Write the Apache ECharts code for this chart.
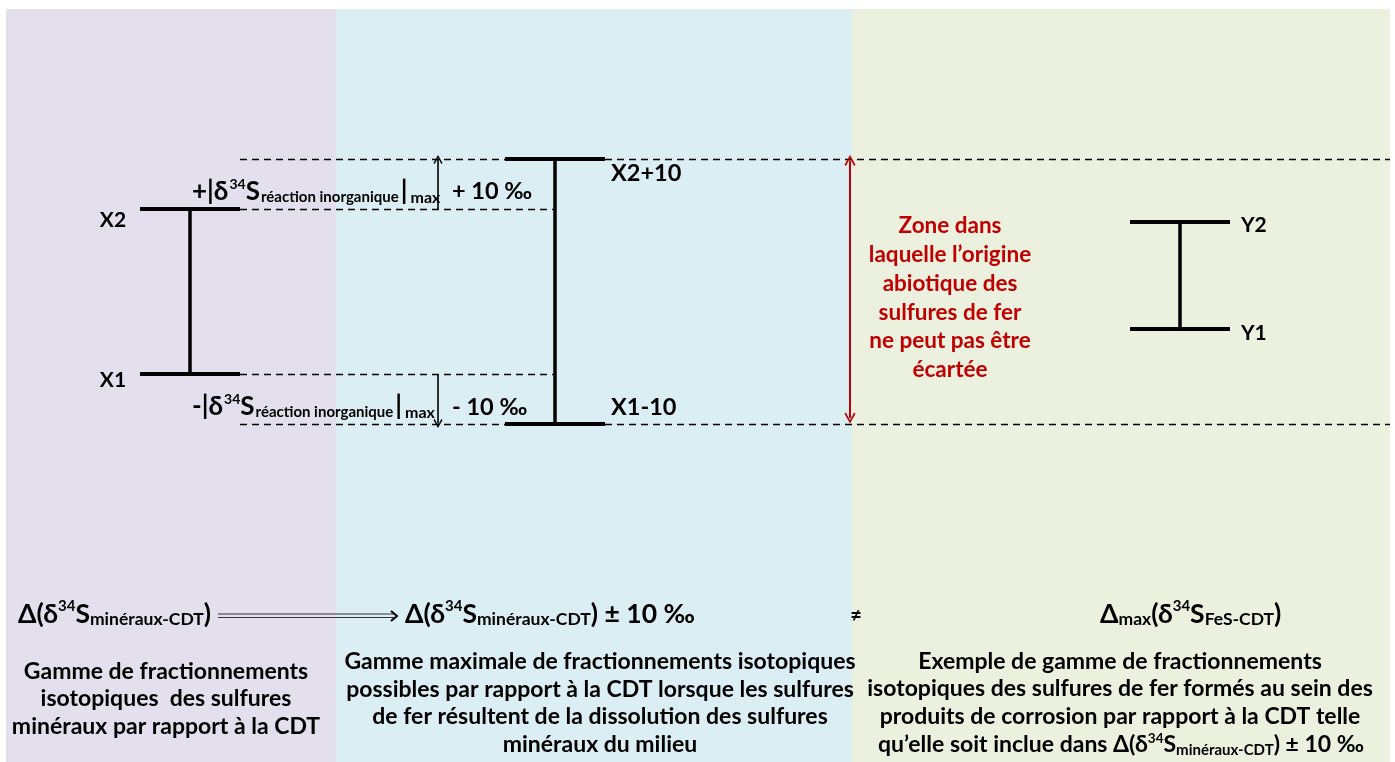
<!DOCTYPE html>
<html><head><meta charset="utf-8">
<script src="https://cdn.jsdelivr.net/npm/echarts@6/dist/echarts.min.js"></script>
<style>html,body{margin:0;padding:0;background:#fff}#c{width:1395px;height:762px}</style>
</head><body><div id="c"></div>
<script>
// ---------- data (relative δ34S levels, ‰) ----------
const levelNames = ['X1', 'X2', 'X1-10', 'X2+10', 'Y1', 'Y2'];
const rangeX = [0, 33];          // X1, X2 : Δ(δ34S minéraux-CDT)
const inorganicShift = [10];     // ± 10 ‰
const rangeY = [9, 30.5];        // Y1, Y2 : Δmax(δ34S FeS-CDT)
const redZoneText = ['Zone dans', 'laquelle l’origine', 'abiotique des', 'sulfures de fer', 'ne peut pas être', 'écartée'];
const captions = [
  ['Gamme de fractionnements', 'isotopiques  des sulfures', 'minéraux par rapport à la CDT'],
  ['Gamme maximale de fractionnements isotopiques', 'possibles par rapport à la CDT lorsque les sulfures', 'de fer résultent de la dissolution des sulfures', 'minéraux du milieu'],
  ['Exemple de gamme de fractionnements', 'isotopiques des sulfures de fer formés au sein des', 'produits de corrosion par rapport à la CDT telle']
];

// ---------- layout ----------
const F = 'Lato, "Open Sans", sans-serif';
const X1 = rangeX[0], X2 = rangeX[1], D = inorganicShift[0];
const X1m = X1 - D, X2p = X2 + D, Y1 = rangeY[0], Y2 = rangeY[1];
const L = {
  left: [140, 240, 190], mid: [505, 605, 555], right: [1130, 1230, 1180],
  dashStart: 240, dashEnd: 1390, arrowX: 438, redX: 850
};

const chart = echarts.init(document.getElementById('c'), null, {renderer: 'canvas'});

function seg(x1, y1, x2, y2) { return {coords: [[x1, y1], [x2, y2]]}; }

const hBars = [
  seg(L.left[0], X1, L.left[1], X1), seg(L.left[0], X2, L.left[1], X2),
  seg(L.mid[0], X1m, L.mid[1], X1m), seg(L.mid[0], X2p, L.mid[1], X2p),
  seg(L.right[0], Y1, L.right[1], Y1), seg(L.right[0], Y2, L.right[1], Y2)
];
const vBars = [
  seg(L.left[2], X1, L.left[2], X2),
  seg(L.mid[2], X1m, L.mid[2], X2p),
  seg(L.right[2], Y1, L.right[2], Y2)
];
const dashed = [
  seg(L.dashStart, X2p, L.mid[0], X2p), seg(L.mid[1], X2p, L.dashEnd, X2p),
  seg(L.dashStart, X2, L.mid[2], X2),
  seg(L.dashStart, X1, L.mid[2], X1),
  seg(L.dashStart, X1m, L.mid[0], X1m), seg(L.mid[1], X1m, L.dashEnd, X1m)
];
const chevron = 'path://M5,0 L10,8.2 L8.7,9.2 L5,2.8 L1.3,9.2 L0,8.2 Z';

const R = (size, extra) => Object.assign({fontFamily: F, fontWeight: 'bold', fontSize: size, fill: '#000', color: '#000'}, extra || {});

const levelLabels = [
  {name: 'X2', value: [113, X2], off: [0, 11], align: 'center', size: 21},
  {name: 'X1', value: [113, X1], off: [0, 6], align: 'center', size: 21},
  {name: 'X2+10', value: [611, X2p], off: [0, 14], align: 'left', size: 23.5},
  {name: 'X1-10', value: [611, X1m], off: [0, -17], align: 'left', size: 23.5},
  {name: 'Y2', value: [1241, Y2], off: [0, 4], align: 'left', size: 21},
  {name: 'Y1', value: [1241, Y1], off: [0, 4], align: 'left', size: 21}
].map(d => ({
  name: d.name, value: d.value,
  label: {show: true, formatter: d.name, offset: d.off, align: d.align, verticalAlign: 'middle',
    position: 'inside', fontFamily: F, fontWeight: 'bold', fontSize: d.size, color: '#000',
    textBorderWidth: 0, opacity: 1}
}));

const richCommon = {
  b: R(26, {padding: [0, 1, 0, 0]}), b2: R(23.5),
  sup: R(14, {padding: [0, 0, 15, 0]}),
  sub: R(15, {padding: [11, 0, 0, 0]}),
  mx: R(16, {padding: [11, 0, 0, 0]}),
  bar: R(26, {padding: [0, 3, 0, 2]})
};
const richHead = {
  h: R(26.5), hs: R(15, {padding: [0, 0, 15, 0]}), hb: R(17.5, {padding: [11, 0, 0, 0]})
};

function txt(x, y, text, opt) {
  return {type: 'text', x: x, y: y, silent: true, z: 10,
    style: Object.assign({text: text, fontFamily: F, fontWeight: 'bold', fontSize: 21, fill: '#000',
      align: 'left', verticalAlign: 'middle', rich: richCommon}, opt || {})};
}

const graphics = [
  {type: 'rect', shape: {x: 6, y: 9, width: 330, height: 753}, style: {fill: '#E4DFEC'}, z: -10, silent: true},
  {type: 'rect', shape: {x: 336, y: 9, width: 516, height: 753}, style: {fill: '#DAEEF3'}, z: -10, silent: true},
  {type: 'rect', shape: {x: 852, y: 9, width: 538, height: 753}, style: {fill: '#EBF1DE'}, z: -10, silent: true},
  // inorganic reaction labels
  txt(192, 192, '{b|+|δ}{sup|34}{b|S}{sub|réaction inorganique}{bar||}{mx|max}'),
  txt(452, 191, '{b2|+ 10 ‰}'),
  txt(192, 407, '{b|-|δ}{sup|34}{b|S}{sub|réaction inorganique}{bar||}{mx|max}'),
  txt(452, 407, '{b2|- 10 ‰}'),
  // red zone text
  txt(950, 298, redZoneText.join('\n'), {align: 'center', fill: '#C00000', fontSize: 22.5, lineHeight: 28.8, rich: null}),
  // headings
  txt(18, 614, '{h|Δ(δ}{hs|34}{h|S}{hb|minéraux-CDT}{h|)}', {rich: richHead}),
  txt(405, 614, '{h|Δ(δ}{hs|34}{h|S}{hb|minéraux-CDT}{h|) ± 10 ‰}', {rich: richHead}),
  txt(856, 616, '≠', {align: 'center', fontSize: 20}),
  txt(1100, 614, '{h|Δ}{hb|max}{h|(δ}{hs|34}{h|S}{hb|FeS-CDT}{h|)}', {rich: richHead}),
  // double arrow
  {type: 'line', shape: {x1: 218, y1: 614, x2: 395, y2: 614}, style: {stroke: '#333', lineWidth: 1}, silent: true},
  {type: 'line', shape: {x1: 218, y1: 617.5, x2: 395, y2: 617.5}, style: {stroke: '#333', lineWidth: 1}, silent: true},
  {type: 'polyline', shape: {points: [[391, 611], [397, 616], [391, 621]]}, style: {stroke: '#000', lineWidth: 2, fill: null}, silent: true},
  // captions
  txt(166, 699, captions[0].join('\n'), {align: 'center', fontSize: 23, lineHeight: 27.5, rich: null}),
  txt(600, 703, captions[1].join('\n'), {align: 'center', fontSize: 23, lineHeight: 27.8, rich: null}),
  txt(1120, 689, captions[2].join('\n'), {align: 'center', fontSize: 23, lineHeight: 27.8, rich: null}),
  txt(1121, 745, '{c|qu’elle soit inclue dans Δ(δ}{cs|34}{c|S}{cb|minéraux-CDT}{c|) ± 10 ‰}', {align: 'center', rich: {
    c: R(23), cs: R(13.5, {padding: [0, 0, 13, 0]}), cb: R(15, {padding: [10, 0, 0, 0]})}})
];

chart.setOption({
  animation: false,
  backgroundColor: '#ffffff',
  grid: {left: 0, right: 0, top: 0, bottom: 0},
  xAxis: {type: 'value', min: 0, max: 1395, show: false},
  yAxis: {type: 'value', min: -77.6, max: 74.8, show: false},
  graphic: graphics,
  series: [
    {type: 'lines', coordinateSystem: 'cartesian2d', silent: true, z: 5,
      lineStyle: {color: '#000', width: 4, opacity: 1}, data: hBars},
    {type: 'lines', coordinateSystem: 'cartesian2d', silent: true, z: 5,
      lineStyle: {color: '#000', width: 3.5, opacity: 1}, data: vBars},
    {type: 'lines', coordinateSystem: 'cartesian2d', silent: true, z: 3,
      lineStyle: {color: '#000', width: 1.3, type: [7, 5], opacity: 1}, data: dashed},
    {type: 'lines', coordinateSystem: 'cartesian2d', silent: true, z: 4,
      symbol: ['none', chevron], symbolSize: 9,
      lineStyle: {color: '#000', width: 1.6, opacity: 1},
      data: [seg(L.arrowX, X2, L.arrowX, X2p - 0.1), seg(L.arrowX, X1, L.arrowX, X1m + 0.1)]},
    {type: 'lines', coordinateSystem: 'cartesian2d', silent: true, z: 4,
      symbol: [chevron, chevron], symbolSize: 11,
      lineStyle: {color: '#C00000', width: 2, opacity: 1},
      itemStyle: {color: '#C00000'},
      data: [seg(L.redX, X2p - 0.3, L.redX, X1m + 1.2)]},
    {type: 'scatter', silent: true, symbolSize: 0, z: 6, itemStyle: {opacity: 1}, data: levelLabels}
  ]
});
</script></body></html>
